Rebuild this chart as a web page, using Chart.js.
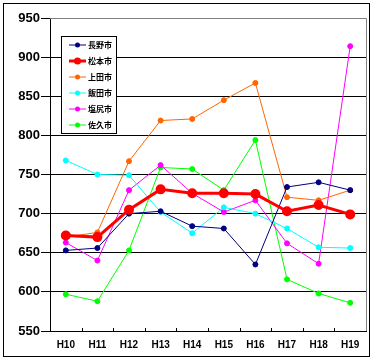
<!DOCTYPE html>
<html>
<head>
<meta charset="utf-8">
<script src="https://cdn.jsdelivr.net/npm/chart.js@4/dist/chart.umd.min.js"></script>
<style>
  body { margin: 0; background: #fff; }
  canvas { display: block; }
</style>
</head>
<body>
<canvas id="lineChart" width="373" height="361"></canvas>
<script>
const years = ['H10', 'H11', 'H12', 'H13', 'H14', 'H15', 'H16', 'H17', 'H18', 'H19'];
const cities = ['長野市', '松本市', '上田市', '飯田市', '塩尻市', '佐久市'];
const nagano   = [653, 656, 700, 703, 684, 681, 635, 734, 740, 730];
const matsumoto = [672, 670, 705, 731, 726, 726, 725, 703, 711, 699];
const ueda     = [670, 676, 767, 819, 821, 845, 867, 721, 717, 730];
const iida     = [768, 750, 749, 702, 675, 708, 700, 681, 657, 656];
const shiojiri = [663, 640, 730, 762, 726, 702, 717, 662, 636, 914];
const saku     = [597, 588, 653, 759, 757, 730, 794, 616, 598, 586];
const colors = ['#000080', '#ff0000', '#ff6600', '#00ffff', '#ff00ff', '#00ff00'];
const yTicks = [550, 600, 650, 700, 750, 800, 850, 900, 950];

const series = [nagano, matsumoto, ueda, iida, shiojiri, saku];

const frame = {
  id: 'frame',
  beforeDraw(chart) {
    const c = chart.ctx;
    c.save();
    c.fillStyle = '#fff';
    c.fillRect(0, 0, chart.width, chart.height);
    c.restore();
  },
  afterDraw(chart) {
    const c = chart.ctx;
    const a = chart.chartArea;
    const x = chart.scales.x;
    c.save();
    // outer border
    c.strokeStyle = '#000';
    c.lineWidth = 1;
    c.strokeRect(3.5, 3.5, 366, 353);
    // gray top and right of plot
    c.strokeStyle = '#808080';
    c.beginPath();
    c.moveTo(a.left, a.top + 0.5);
    c.lineTo(a.right + 0.5, a.top + 0.5);
    c.lineTo(a.right + 0.5, a.bottom);
    c.stroke();
    // inside tick marks on x axis
    c.strokeStyle = '#000';
    c.beginPath();
    for (let i = 1; i < years.length; i++) {
      const px = Math.round(x.getPixelForValue(i - 0.5)) + 0.5;
      c.moveTo(px, a.bottom);
      c.lineTo(px, a.bottom - 3);
    }
    c.stroke();
    // legend box
    const lx = 61, ly = 36, lw = 55, lh = 97;
    c.fillStyle = '#fff';
    c.fillRect(lx, ly, lw, lh);
    c.strokeRect(lx + 0.5, ly + 0.5, lw, lh);
    c.font = 'bold 8px "Noto Sans CJK JP"';
    c.textBaseline = 'middle';
    chart.data.datasets.forEach((ds, i) => {
      const y = ly + 9 + i * 16;
      c.strokeStyle = ds.borderColor;
      c.lineWidth = ds.borderWidth;
      c.beginPath();
      c.moveTo(69, y);
      c.lineTo(86, y);
      c.stroke();
      c.fillStyle = ds.borderColor;
      c.beginPath();
      c.arc(77.5, y, ds.pointRadius, 0, Math.PI * 2);
      c.fill();
      c.fillStyle = '#000';
      c.fillText(ds.label, 88, y);
    });
    c.restore();
  }
};

new Chart(document.getElementById('lineChart'), {
  type: 'line',
  data: {
    labels: years,
    datasets: series.map((vals, i) => ({
      label: cities[i],
      data: vals,
      borderColor: colors[i],
      backgroundColor: colors[i],
      pointBackgroundColor: colors[i],
      pointBorderColor: colors[i],
      borderWidth: i === 1 ? 3 : 1,
      pointRadius: i === 1 ? 3.5 : 2.5,
      order: i === 1 ? -1 : i,
      tension: 0
    }))
  },
  options: {
    responsive: false,
    animation: false,
    devicePixelRatio: 1,
    layout: { padding: { left: 0, top: 18, right: 5, bottom: 0 } },
    plugins: {
      legend: { display: false },
      tooltip: { enabled: false }
    },
    scales: {
      x: {
        offset: true,
        grid: { display: false, drawTicks: false },
        border: { display: true, color: '#000', width: 1 },
        ticks: {
          color: '#000',
          padding: 8,
          font: { family: 'Liberation Sans', size: 10, weight: 'bold' },
          maxRotation: 0
        },
        afterFit(axis) { axis.height = 30; }
      },
      y: {
        min: 550,
        max: 950,
        afterBuildTicks(axis) { axis.ticks = yTicks.map(v => ({ value: v })); },
        grid: { color: '#000', lineWidth: 1, tickLength: 9, tickColor: '#000' },
        border: { display: true, color: '#000', width: 1 },
        ticks: {
          color: '#000',
          padding: 1,
          font: { family: 'Liberation Sans', size: 13, weight: 'bold' }
        },
        afterFit(axis) { axis.width = 50; }
      }
    }
  },
  plugins: [frame]
});
</script>
</body>
</html>
